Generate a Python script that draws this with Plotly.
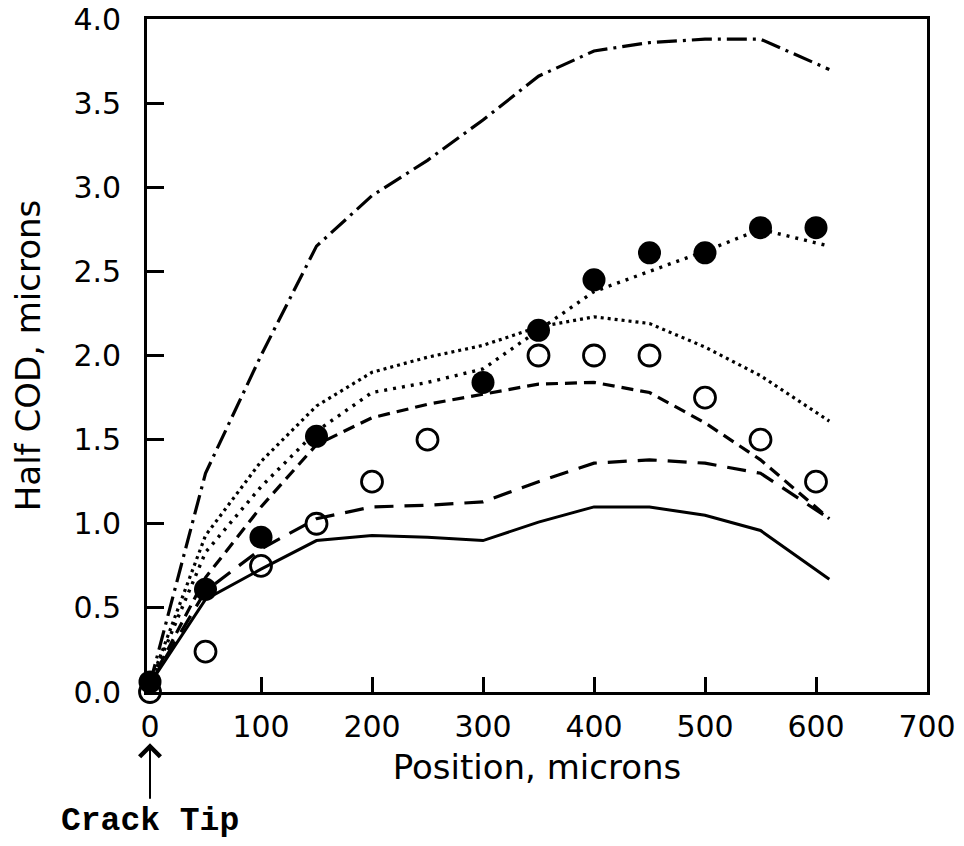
import plotly.graph_objects as go

# ---- data ----
model_x = [0, 50, 100, 150, 200, 250, 300, 350, 400, 450, 500, 550, 612]
solid_y = [0.05, 0.55, 0.73, 0.90, 0.93, 0.92, 0.90, 1.01, 1.10, 1.10, 1.05, 0.96, 0.67]
longdash_y = [0.05, 0.60, 0.85, 1.03, 1.10, 1.11, 1.13, 1.25, 1.36, 1.38, 1.36, 1.30, 1.03]
meddash_y = [0.05, 0.68, 1.10, 1.47, 1.63, 1.71, 1.77, 1.83, 1.84, 1.78, 1.60, 1.38, 1.03]
finedot_y = [0.05, 0.93, 1.37, 1.70, 1.90, 1.99, 2.06, 2.17, 2.23, 2.19, 2.05, 1.88, 1.61]
sparsedot_y = [0.05, 0.83, 1.22, 1.55, 1.78, 1.84, 1.92, 2.15, 2.38, 2.50, 2.62, 2.75, 2.65]
dashdot_y = [0.05, 1.30, 2.00, 2.65, 2.95, 3.16, 3.40, 3.66, 3.81, 3.86, 3.88, 3.88, 3.70]

filled_x = [0, 50, 100, 150, 300, 350, 400, 450, 500, 550, 600]
filled_y = [0.06, 0.61, 0.92, 1.52, 1.84, 2.15, 2.45, 2.61, 2.61, 2.76, 2.76]
open_x = [0, 50, 100, 150, 200, 250, 350, 400, 450, 500, 550, 600]
open_y = [0.0, 0.24, 0.75, 1.0, 1.25, 1.5, 2.0, 2.0, 2.0, 1.75, 1.5, 1.25]

x_ticks = [0, 100, 200, 300, 400, 500, 600, 700]
y_ticks = [0.0, 0.5, 1.0, 1.5, 2.0, 2.5, 3.0, 3.5, 4.0]

fig = go.Figure()

line_styles = [
    (solid_y, "solid", 3.0),
    (longdash_y, "19px,11px", 3.2),
    (meddash_y, "12px,7px", 3.2),
    (finedot_y, "3px,4px", 3.2),
    (sparsedot_y, "3px,6px", 3.4),
    (dashdot_y, "20px,6px,3px,6px", 3.2),
]
for ys, dash, w in line_styles:
    fig.add_trace(go.Scatter(
        x=model_x, y=ys, mode="lines",
        line=dict(color="black", width=w, dash=dash),
        showlegend=False, cliponaxis=False, hoverinfo="skip"))

fig.add_trace(go.Scatter(
    x=open_x, y=open_y, mode="markers",
    marker=dict(symbol="circle-open", size=21, color="black", line=dict(width=2.8)),
    showlegend=False, cliponaxis=False))
fig.add_trace(go.Scatter(
    x=filled_x, y=filled_y, mode="markers",
    marker=dict(symbol="circle", size=23, color="black"),
    showlegend=False, cliponaxis=False))

tick_font = dict(family="DejaVu Sans", size=30, color="black")
title_font = dict(family="DejaVu Sans", size=34, color="black")

fig.update_layout(
    width=964, height=846,
    margin=dict(l=147, r=37, t=19, b=154, autoexpand=False),
    paper_bgcolor="white", plot_bgcolor="white",
    xaxis=dict(
        range=[-2.7, 700], tickvals=x_ticks, ticktext=[str(v) for v in x_ticks],
        ticks="inside", ticklen=15, tickwidth=2.5, tickcolor="black",
        showline=True, linewidth=2.8, linecolor="black", mirror=True,
        showgrid=False, zeroline=False, tickfont=tick_font, automargin=False,
        ticklabelstandoff=6, ticklabeloverflow="allow",
        title=dict(text="Position, microns", font=title_font, standoff=13),
    ),
    yaxis=dict(
        range=[0, 4], tickvals=y_ticks, ticktext=[f"{v:.1f}" for v in y_ticks],
        ticks="inside", ticklen=17, tickwidth=2.5, tickcolor="black",
        showline=True, linewidth=2.8, linecolor="black", mirror=True,
        showgrid=False, zeroline=False, tickfont=tick_font, automargin=False,
        ticklabelstandoff=17, ticklabeloverflow="allow",
        title=dict(text="Half COD, microns", font=title_font, standoff=23),
    ),
)

# crack tip arrow and label
fig.add_annotation(
    x=0, xref="x", y=-0.076, yref="paper",
    ax=0, ay=57, axref="pixel", ayref="pixel",
    showarrow=True, arrowhead=4, arrowsize=2, arrowwidth=2, arrowcolor="black", text="")
fig.add_annotation(
    x=0, xref="x", y=-0.193, yref="paper", showarrow=False,
    text="<b>Crack Tip</b>", xanchor="center", yanchor="middle",
    font=dict(family="Liberation Mono", size=33, color="black"))

# remove the default 8px page margin so the figure fills the window exactly
fig.write_html("out.html",
               config={"displayModeBar": False},
               post_script="document.body.style.margin='0';document.body.style.overflow='hidden';")
